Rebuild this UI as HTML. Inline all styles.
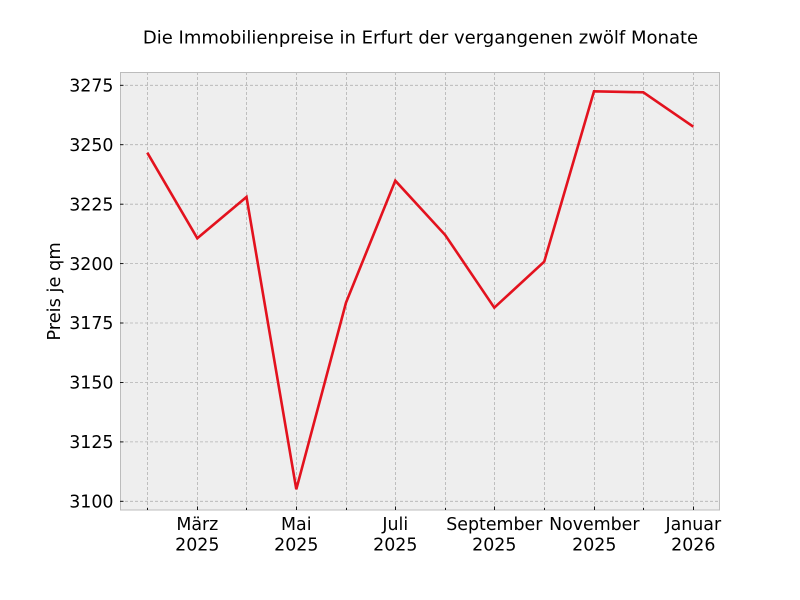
<!DOCTYPE html>
<html><head><meta charset="utf-8"><style>
html,body{margin:0;padding:0;background:#fff;}
svg{display:block;font-family:"DejaVu Sans","Liberation Sans",sans-serif;}
</style></head><body>
<svg width="800" height="600" viewBox="0 0 800 600" xmlns="http://www.w3.org/2000/svg">
<rect x="0" y="0" width="800" height="600" fill="#ffffff"/>
<rect x="120" y="72" width="600" height="438" fill="#eeeeee"/>
<g stroke="#b2b2b2" stroke-width="0.8" stroke-dasharray="3,2" fill="none">
<line x1="147.5" y1="72" x2="147.5" y2="510"/>
<line x1="197.5" y1="72" x2="197.5" y2="510"/>
<line x1="246.5" y1="72" x2="246.5" y2="510"/>
<line x1="296.5" y1="72" x2="296.5" y2="510"/>
<line x1="346.5" y1="72" x2="346.5" y2="510"/>
<line x1="395.5" y1="72" x2="395.5" y2="510"/>
<line x1="445.5" y1="72" x2="445.5" y2="510"/>
<line x1="494.5" y1="72" x2="494.5" y2="510"/>
<line x1="544.5" y1="72" x2="544.5" y2="510"/>
<line x1="594.5" y1="72" x2="594.5" y2="510"/>
<line x1="643.5" y1="72" x2="643.5" y2="510"/>
<line x1="693.5" y1="72" x2="693.5" y2="510"/>
<line x1="120" y1="85.3" x2="720" y2="85.3"/>
<line x1="120" y1="144.7" x2="720" y2="144.7"/>
<line x1="120" y1="204.2" x2="720" y2="204.2"/>
<line x1="120" y1="263.6" x2="720" y2="263.6"/>
<line x1="120" y1="323" x2="720" y2="323"/>
<line x1="120" y1="382.5" x2="720" y2="382.5"/>
<line x1="120" y1="441.9" x2="720" y2="441.9"/>
<line x1="120" y1="501.3" x2="720" y2="501.3"/>
</g>
<rect x="120.5" y="72.5" width="599" height="437.5" fill="none" stroke="#bcbcbc" stroke-width="1"/>
<g stroke="#000" stroke-width="0.9">
<line x1="120" y1="85.3" x2="123.5" y2="85.3"/>
<line x1="120" y1="144.7" x2="123.5" y2="144.7"/>
<line x1="120" y1="204.2" x2="123.5" y2="204.2"/>
<line x1="120" y1="263.6" x2="123.5" y2="263.6"/>
<line x1="120" y1="323" x2="123.5" y2="323"/>
<line x1="120" y1="382.5" x2="123.5" y2="382.5"/>
<line x1="120" y1="441.9" x2="123.5" y2="441.9"/>
<line x1="120" y1="501.3" x2="123.5" y2="501.3"/>
<line x1="147.5" y1="510" x2="147.5" y2="508"/>
<line x1="197.5" y1="510" x2="197.5" y2="506.5"/>
<line x1="246.5" y1="510" x2="246.5" y2="508"/>
<line x1="296.5" y1="510" x2="296.5" y2="506.5"/>
<line x1="346.5" y1="510" x2="346.5" y2="508"/>
<line x1="395.5" y1="510" x2="395.5" y2="506.5"/>
<line x1="445.5" y1="510" x2="445.5" y2="508"/>
<line x1="494.5" y1="510" x2="494.5" y2="506.5"/>
<line x1="544.5" y1="510" x2="544.5" y2="508"/>
<line x1="594.5" y1="510" x2="594.5" y2="506.5"/>
<line x1="643.5" y1="510" x2="643.5" y2="508"/>
<line x1="693.5" y1="510" x2="693.5" y2="506.5"/>
</g>
<polyline fill="none" stroke="#e3121e" stroke-width="2.6" stroke-linejoin="miter" stroke-linecap="butt"
points="147.3,152.7 197.3,238.3 246.5,197 296.3,489.3 346,302.7 395.3,180.7 445.2,235 494.3,307.7 544.2,261.7 594,91.3 643.3,92.3 693.3,126.7"/>
<g font-size="17.4" fill="#000" text-anchor="end">
<text x="113.5" y="91.5">3275</text>
<text x="113.5" y="150.9">3250</text>
<text x="113.5" y="210.4">3225</text>
<text x="113.5" y="269.8">3200</text>
<text x="113.5" y="329.2">3175</text>
<text x="113.5" y="388.7">3150</text>
<text x="113.5" y="448.1">3125</text>
<text x="113.5" y="507.5">3100</text>
</g>
<g font-size="17.4" fill="#000" text-anchor="middle">
<text x="197.3" y="530">März</text><text x="197.3" y="550.5">2025</text>
<text x="296.3" y="530">Mai</text><text x="296.3" y="550.5">2025</text>
<text x="395.3" y="530">Juli</text><text x="395.3" y="550.5">2025</text>
<text x="494.3" y="530">September</text><text x="494.3" y="550.5">2025</text>
<text x="594.3" y="530">November</text><text x="594.3" y="550.5">2025</text>
<text x="693.3" y="530">Januar</text><text x="693.3" y="550.5">2026</text>
</g>
<text x="0" y="0" font-size="17.8" fill="#000" text-anchor="middle" transform="translate(60,291.5) rotate(-90)">Preis je qm</text>
<text x="420.5" y="43.5" font-size="18" fill="#000" text-anchor="middle">Die Immobilienpreise in Erfurt der vergangenen zwölf Monate</text>
</svg>
</body></html>
